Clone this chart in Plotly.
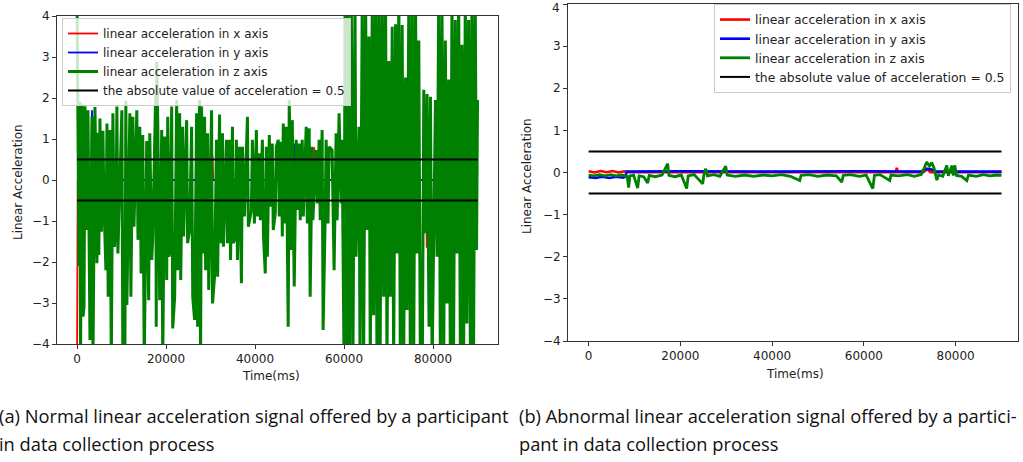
import plotly.graph_objects as go

# ---------------- data: (a) normal participant ----------------
# z-axis (green) local maxima and minima: (time ms, value)
z_peaks = [
    (0, 4.5), (220, 1.95), (670, 1.9), (1120, 1.85), (1790, 1.8), (2460, 1.7), (3360, 1.55),
    (4030, 1.78), (4700, 1.15), (5150, 1.5), (5820, 1.2), (6720, 1.38), (7390, 1.22), (8060, 1.63),
    (8960, 1.79), (10080, 1.7), (10970, 1.93), (11870, 1.63), (12540, 1.54), (13430, 1.7),
    (14110, 1.3), (14780, 1.1), (15670, 0.95), (16350, 1.14), (17690, 2.2), (17910, 2.88),
    (18140, 1.46), (19030, 1.22), (19700, 1.06), (20380, 1.54), (21270, 1.79), (22390, 1.95),
    (23060, 1.63), (23730, 1.3), (24630, 1.46), (25750, 1.3), (26870, 1.63), (27540, 1.95),
    (27990, 1.79), (28660, 1.54), (29330, 1.14), (30230, 1.7), (31350, 0.98), (32020, 1.6),
    (32690, 1.14), (33590, 0.98), (34260, 0.98), (34930, 1.3), (35820, 0.98), (36500, 0.81),
    (37170, 0.81), (38290, 1.54), (39410, 0.98), (40300, 1.22), (40970, 0.65), (41650, 0.98),
    (42540, 0.81), (43210, 1.1), (43880, 0.89), (44780, 0.81), (45230, 0.98), (45900, 0.93),
    (46350, 1.38), (47020, 1.3), (47690, 1.95), (48370, 1.46), (49260, 0.98), (49930, 0.89),
    (50600, 0.98), (51500, 1.3), (52170, 1.26), (52840, 0.81), (53740, 0.73), (54410, 0.98),
    (55080, 1.22), (55980, 0.98), (56650, 0.81), (57320, 0.73), (58220, 1.14), (58890, 1.63),
    (59560, 0.98), (60230, 4.5), (60900, 4.5), (61640, 4.5), (62460, 4.5), (63360, 1.3),
    (64100, 4.5), (64850, 4.5), (65600, 3.5), (66350, 4.5), (67100, 4.5), (67840, 4.5),
    (68590, 4.5), (69340, 4.5), (70080, 2.9), (70830, 3.74), (71580, 3.8), (72320, 4.5),
    (73070, 3.78), (73820, 2.5), (74560, 4.5), (75310, 4.5), (76060, 4.5), (76800, 3.4),
    (77920, 2.2), (78660, 2.1), (79420, 2.03), (80540, 1.95), (81280, 4.5), (82020, 4.0),
    (82770, 3.4), (83520, 2.45), (84260, 4.5), (85010, 3.9), (85760, 4.5), (86500, 3.3),
    (87250, 4.5), (87990, 3.9), (88740, 4.5), (89480, 4.5), (90000, 1.95),
]
z_troughs = [
    (440, -2.1), (780, -4.5), (1350, -3.33), (1570, -3.09), (2240, -1.22), (2910, -3.9),
    (3580, -4.5), (4480, -2.03), (4900, -1.83), (5480, -1.26), (6050, -0.57), (6490, -2.2),
    (7000, -2.85), (7700, -4.5), (8400, -1.63), (8750, -1.14), (9180, -1.79), (10300, -4.5),
    (10750, -4.5), (11200, -3.05), (12100, -2.85), (12800, -1.14), (13700, -1.46), (14400, -2.28),
    (15100, -4.5), (15900, -2.2), (16100, -2.93), (16790, -1.95), (17020, -1.38), (17800, -3.58),
    (18580, -2.93), (19260, -4.5), (20150, -2.44), (20600, -1.87), (20820, -1.79), (21500, -3.62),
    (21940, -2.85), (22600, -2.2), (23300, -2.44), (23950, -1.38), (24850, -1.54), (25300, -1.22),
    (26000, -2.85), (26420, -3.41), (27100, -3.58), (27760, -4.5), (28210, -1.79), (28900, -2.2),
    (29600, -2.68), (30450, -3.01), (30900, -2.36), (31600, -2.36), (32250, -1.54), (32900, -1.63),
    (33800, -1.54), (34500, -1.95), (35150, -1.54), (35600, -1.38), (36050, -1.95), (36940, -2.52),
    (37620, -0.89), (38500, -1.14), (39180, -0.73), (39860, -1.06), (40530, -0.89), (41200, -0.98),
    (41900, -1.38), (42300, -2.28), (42770, -1.87), (43450, -0.65), (44100, -1.22), (44550, -0.81),
    (45450, -0.89), (46130, -1.38), (46700, -1.06), (47450, -3.58), (48140, -1.71), (48810, -2.6),
    (49500, -0.73), (50150, -0.98), (50850, -0.89), (51750, -1.06), (52390, -2.85), (53000, -0.98),
    (54000, -0.57), (54650, -0.98), (55300, -3.66), (55750, -0.98), (56400, -1.06), (57770, -2.2),
    (58450, -0.98), (59330, -0.57), (60010, -4.5), (60600, -4.5), (61250, -4.5), (62000, -4.5),
    (62700, -1.87), (63600, -4.5), (64400, -4.5), (65150, -1.22), (65900, -4.5), (66650, -3.3),
    (67400, -4.5), (68100, -4.5), (68900, -2.85), (69650, -4.5), (70400, -2.85), (71150, -4.5),
    (71900, -1.79), (72650, -4.5), (73400, -4.5), (74150, -3.17), (74900, -4.5), (75650, -4.5),
    (76400, -1.79), (77150, -4.5), (77600, -4.5), (78300, -1.3), (79100, -3.58), (79800, -4.5),
    (80900, -1.87), (81650, -4.5), (82400, -4.5), (83150, -3.01), (83900, -4.5), (84600, -4.5),
    (85400, -1.79), (86150, -4.5), (86870, -4.5), (87600, -3.5), (88400, -4.5), (89100, -4.5),
    (89780, -1.71),
]
# x-axis (red) and y-axis (blue): only visible where they stick out of the green trace
a_x_t = [0, 150, 15500, 15670, 15850, 30300, 30450, 30600, 38150, 38290, 38450, 48200, 48370,
         48550, 49100, 49260, 49400, 50450, 50600, 50750, 53150, 53290, 53450, 65900, 66050,
         66200, 78450, 78590, 78750, 90000]
a_x_v = [-4.5, 0, 0, 0.95, 0, 0, 0.6, 0, 0, 0.62, 0, 0, 1.0, 0, 0, -0.7, 0, 0, 0.95, 0, 0,
         0.8, 0, 0, -3.45, 0, 0, -1.65, 0, 0]
a_y_t = [0, 3200, 3360, 3500, 15550, 15700, 15850, 48650, 48810, 48950, 90000]
a_y_v = [0, 0, 1.7, 0, 0, 0.8, 0, 0, 0.89, 0, 0]

# ---------------- data: (b) abnormal participant ----------------
b_x_t = [0, 1300, 2600, 3900, 5200, 6500, 7800, 8200, 20000, 40000, 60000, 66950, 67180, 67400,
         73000, 73800, 74500, 90000]
b_x_v = [0.03, 0.0, 0.035, 0.005, 0.035, 0.0, 0.03, 0.01, 0.01, 0.01, 0.01, 0.01, 0.11, 0.01,
         0.01, 0.08, 0.01, 0.01]
b_y_t = [0, 1500, 3000, 4500, 6000, 7500, 8000, 8300, 20000, 40000, 60000, 72500, 73500, 74800,
         75800, 90000]
b_y_v = [-0.11, -0.13, -0.1, -0.13, -0.1, -0.12, -0.1, 0.02, 0.03, 0.02, 0.03, 0.02, 0.09, 0.07,
         0.02, 0.02]
b_z_t = [0, 1200, 2400, 3600, 4800, 6000, 7200, 8400, 8720, 9000, 9800, 10690, 11000, 12000,
         12870, 13200, 14500, 16000, 17230, 17500, 18800, 20200, 21370, 21700, 23000, 24860,
         25100, 25520, 25900, 27300, 28600, 29880, 30200, 32000, 34000, 36000, 38000, 40000,
         42000, 44000, 46020, 46300, 48000, 50000, 52000, 54000, 55180, 55500, 57000, 59000,
         60500, 61940, 62300, 63500, 65650, 65900, 67500, 69500, 71000, 72500, 73200, 73700,
         74300, 74800, 75300, 75900, 76300, 77200, 78080, 78400, 79170, 79500, 79820, 80200,
         81300, 82440, 82800, 84500, 86000, 87500, 89000, 90000]
b_z_v = [-0.06, -0.08, -0.05, -0.08, -0.05, -0.08, -0.06, -0.09, -0.36, -0.08, -0.06, -0.37,
         -0.08, -0.1, -0.25, -0.07, -0.1, -0.06, 0.21, -0.07, -0.1, -0.06, -0.38, -0.08, -0.05,
         -0.27, -0.07, 0.09, -0.08, -0.05, -0.09, 0.15, -0.06, -0.09, -0.06, -0.09, -0.06, -0.08,
         -0.05, -0.09, -0.19, -0.07, -0.05, -0.09, -0.06, -0.08, -0.23, -0.07, -0.05, -0.09,
         -0.06, -0.38, -0.07, -0.05, -0.19, -0.06, -0.08, -0.05, -0.09, -0.05, 0.12, 0.25, 0.15,
         0.24, 0.1, -0.18, -0.06, -0.09, 0.17, -0.08, 0.16, -0.07, 0.17, -0.07, -0.09, -0.19,
         -0.06, -0.09, -0.05, -0.08, -0.06, -0.07]

thr_t = [0, 90000]
thr_level = 0.5

x_ticks = [0, 20000, 40000, 60000, 80000]
x_tick_text = ["0", "20000", "40000", "60000", "80000"]
y_ticks = [-4, -3, -2, -1, 0, 1, 2, 3, 4]

names = ["linear acceleration in x axis", "linear acceleration in y axis",
         "linear acceleration in z axis", "the absolute value of acceleration = 0.5"]
caption_a = ["(a) Normal linear acceleration signal offered by a participant",
             "in data collection process"]
caption_b = ["(b) Abnormal linear acceleration signal offered by a partici-",
             "pant in data collection process"]

# ---------------- figure ----------------
W, H = 1023, 462
pts = sorted(z_peaks + z_troughs)
a_z_t = [p[0] for p in pts]
a_z_v = [p[1] for p in pts]

RED, BLUE, GREEN, BLACK = "#ff0000", "#0000ff", "#008000", "#000000"
fig = go.Figure()


def add_panel(xa, ya, leg, xs, lws):
    (xt, xv), (yt, yv), (zt, zv) = xs
    for (t, v, c, n, lw) in [(xt, xv, RED, names[0], lws[0]), (yt, yv, BLUE, names[1], lws[1]),
                             (zt, zv, GREEN, names[2], lws[2])]:
        fig.add_trace(go.Scatter(x=t, y=v, mode="lines", line=dict(color=c, width=lw), name=n,
                                 xaxis=xa, yaxis=ya, legend=leg))
    for k, s in enumerate([thr_level, -thr_level]):
        fig.add_trace(go.Scatter(x=thr_t, y=[s, s], mode="lines", line=dict(color=BLACK, width=2),
                                 name=names[3], showlegend=(k == 0), xaxis=xa, yaxis=ya, legend=leg))


add_panel("x", "y", "legend", [(a_x_t, a_x_v), (a_y_t, a_y_v), (a_z_t, a_z_v)], (1.8, 1.8, 3.0))
add_panel("x2", "y2", "legend2", [(b_x_t, b_x_v), (b_y_t, b_y_v), (b_z_t, b_z_v)], (2.6, 2.6, 2.8))

axis_common = dict(showline=True, mirror=True, linecolor="#333333", linewidth=1, ticks="outside",
                   ticklen=4, tickcolor="#333333", showgrid=False, zeroline=False,
                   tickfont=dict(family="DejaVu Sans", size=12, color="#222222"), automargin=False)

leg_common = dict(xanchor="left", yanchor="top", bgcolor="rgba(255,255,255,0.8)",
                  bordercolor="#cccccc", borderwidth=1, tracegroupgap=0, itemwidth=30)

fig.update_layout(
    width=W, height=H, margin=dict(l=0, r=0, t=0, b=0),
    paper_bgcolor="white", plot_bgcolor="white", template="none",
    xaxis=dict(domain=[57 / W, 498 / W], range=[-4500, 94600], tickvals=x_ticks, ticktext=x_tick_text,
               anchor="y", **axis_common),
    yaxis=dict(domain=[1 - 344 / H, 1 - 16 / H], range=[-4, 4], tickvals=y_ticks, anchor="x", **axis_common),
    xaxis2=dict(domain=[568 / W, 1018 / W], range=[-4500, 93600], tickvals=x_ticks, ticktext=x_tick_text,
                anchor="y2", **axis_common),
    yaxis2=dict(domain=[1 - 341 / H, 1 - 4 / H], range=[-4, 4], tickvals=y_ticks, anchor="x2", **axis_common),
    legend=dict(x=62 / W, y=1 - 18 / H, font=dict(family="DejaVu Sans", size=12.0, color="#222222"),
                **leg_common),
    legend2=dict(x=714 / W, y=1 - 4 / H, font=dict(family="DejaVu Sans", size=12.4, color="#222222"),
                 **leg_common),
    showlegend=True,
)

ann_font = dict(family="DejaVu Sans", size=12, color="#222222")
annotations = [
    dict(text="Time(ms)", x=271 / W, y=1 - 376 / H, font=ann_font),
    dict(text="Time(ms)", x=795 / W, y=1 - 374 / H, font=ann_font),
    dict(text="Linear Acceleration", x=18 / W, y=1 - 182 / H, textangle=-90, font=ann_font),
    dict(text="Linear Acceleration", x=527 / W, y=1 - 176 / H, textangle=-90, font=ann_font),
    # top tick label of panel (b), kept just inside the image edge
    dict(text="4", x=562 / W, y=1 - 8 / H, xanchor="right", font=ann_font),
]
cap_font = dict(family="Open Sans", size=18.3, color="#111111")
for xs, lines in [(-3, caption_a), (517, caption_b)]:
    for i, line in enumerate(lines):
        annotations.append(dict(text=line, x=xs / W, y=1 - (415 + 28 * i) / H, xanchor="left",
                                font=cap_font))
for a in annotations:
    a.update(xref="paper", yref="paper", showarrow=False)
    a.setdefault("xanchor", "center")
    a.setdefault("yanchor", "middle")
fig.update_layout(annotations=annotations)

fig.write_html("out.html", config={"displayModeBar": False},
               post_script="document.body.style.margin='0px';")
